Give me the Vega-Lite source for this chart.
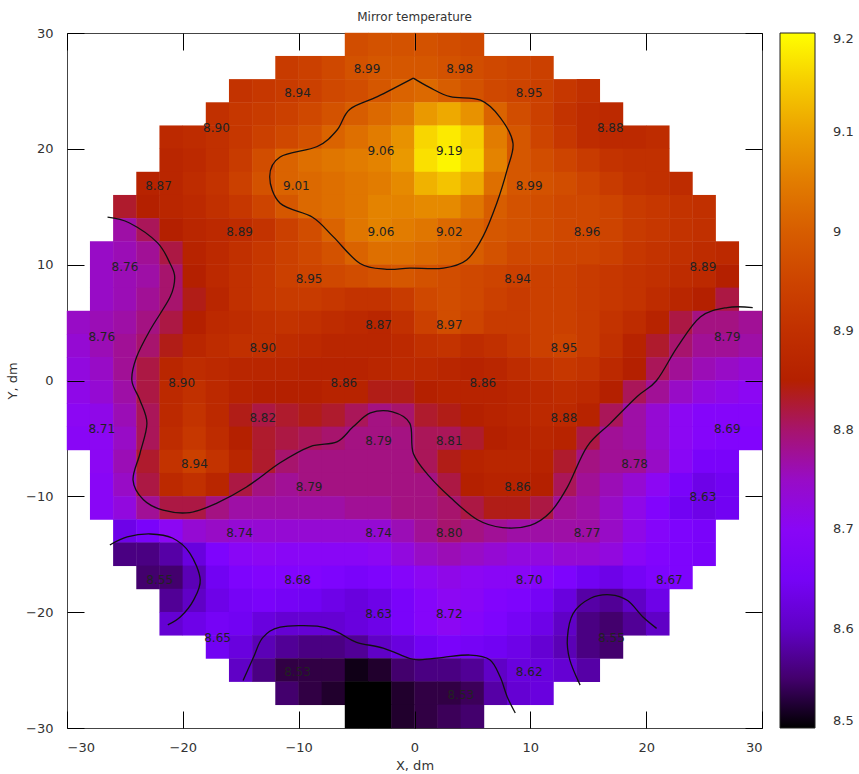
{
"$schema": "https://vega.github.io/schema/vega-lite/v6.json",
"width": 695, "height": 695,
"autosize": {"type": "none"},
"padding": {"left": 67, "top": 33, "right": 97, "bottom": 46},
"title": {"text": "Mirror temperature", "font": "DejaVu Sans", "fontSize": 12, "fontWeight": "normal", "color": "#333", "offset": 3},
"config": {"view": {"stroke": "#444"}, "legend": {"gradientVerticalMaxLength": 2000}},
"resolve": {"axis": {"x": "independent", "y": "independent"}},
"layer": [
{
"data": {"values": [
{"x":-5,"y":29,"t":8.97},{"x":-3,"y":29,"t":8.98},{"x":-1,"y":29,"t":8.98},{"x":1,"y":29,"t":8.98},{"x":3,"y":29,"t":8.97},{"x":5,"y":29,"t":8.96},
{"x":-11,"y":27,"t":8.93},{"x":-9,"y":27,"t":8.94},{"x":-7,"y":27,"t":8.96},{"x":-5,"y":27,"t":8.98},{"x":-3,"y":27,"t":8.99},{"x":-1,"y":27,"t":8.99},{"x":1,"y":27,"t":8.99},{"x":3,"y":27,"t":8.98},{"x":5,"y":27,"t":8.97},{"x":7,"y":27,"t":8.96},{"x":9,"y":27,"t":8.95},{"x":11,"y":27,"t":8.94},
{"x":-15,"y":25,"t":8.91},{"x":-13,"y":25,"t":8.92},{"x":-11,"y":25,"t":8.93},{"x":-9,"y":25,"t":8.94},{"x":-7,"y":25,"t":8.96},{"x":-5,"y":25,"t":8.97},{"x":-3,"y":25,"t":8.99},{"x":-1,"y":25,"t":9.01},{"x":1,"y":25,"t":9.02},{"x":3,"y":25,"t":9.00},{"x":5,"y":25,"t":8.98},{"x":7,"y":25,"t":8.96},{"x":9,"y":25,"t":8.95},{"x":11,"y":25,"t":8.94},{"x":13,"y":25,"t":8.92},{"x":15,"y":25,"t":8.90},
{"x":-17,"y":23,"t":8.90},{"x":-15,"y":23,"t":8.92},{"x":-13,"y":23,"t":8.93},{"x":-11,"y":23,"t":8.94},{"x":-9,"y":23,"t":8.96},{"x":-7,"y":23,"t":8.98},{"x":-5,"y":23,"t":9.00},{"x":-3,"y":23,"t":9.02},{"x":-1,"y":23,"t":9.04},{"x":1,"y":23,"t":9.09},{"x":3,"y":23,"t":9.11},{"x":5,"y":23,"t":9.08},{"x":7,"y":23,"t":9.01},{"x":9,"y":23,"t":8.97},{"x":11,"y":23,"t":8.94},{"x":13,"y":23,"t":8.91},{"x":15,"y":23,"t":8.89},{"x":17,"y":23,"t":8.88},
{"x":-21,"y":21,"t":8.88},{"x":-19,"y":21,"t":8.89},{"x":-17,"y":21,"t":8.90},{"x":-15,"y":21,"t":8.92},{"x":-13,"y":21,"t":8.94},{"x":-11,"y":21,"t":8.96},{"x":-9,"y":21,"t":8.98},{"x":-7,"y":21,"t":9.01},{"x":-5,"y":21,"t":9.03},{"x":-3,"y":21,"t":9.05},{"x":-1,"y":21,"t":9.08},{"x":1,"y":21,"t":9.16},{"x":3,"y":21,"t":9.18},{"x":5,"y":21,"t":9.15},{"x":7,"y":21,"t":9.05},{"x":9,"y":21,"t":8.99},{"x":11,"y":21,"t":8.95},{"x":13,"y":21,"t":8.92},{"x":15,"y":21,"t":8.89},{"x":17,"y":21,"t":8.88},{"x":19,"y":21,"t":8.88},{"x":21,"y":21,"t":8.89},
{"x":-21,"y":19,"t":8.87},{"x":-19,"y":19,"t":8.88},{"x":-17,"y":19,"t":8.90},{"x":-15,"y":19,"t":8.93},{"x":-13,"y":19,"t":8.97},{"x":-11,"y":19,"t":9.01},{"x":-9,"y":19,"t":9.03},{"x":-7,"y":19,"t":9.04},{"x":-5,"y":19,"t":9.05},{"x":-3,"y":19,"t":9.06},{"x":-1,"y":19,"t":9.09},{"x":1,"y":19,"t":9.17},{"x":3,"y":19,"t":9.19},{"x":5,"y":19,"t":9.16},{"x":7,"y":19,"t":9.06},{"x":9,"y":19,"t":8.99},{"x":11,"y":19,"t":8.97},{"x":13,"y":19,"t":8.95},{"x":15,"y":19,"t":8.93},{"x":17,"y":19,"t":8.91},{"x":19,"y":19,"t":8.90},{"x":21,"y":19,"t":8.90},
{"x":-23,"y":17,"t":8.86},{"x":-21,"y":17,"t":8.87},{"x":-19,"y":17,"t":8.89},{"x":-17,"y":17,"t":8.91},{"x":-15,"y":17,"t":8.94},{"x":-13,"y":17,"t":8.98},{"x":-11,"y":17,"t":9.01},{"x":-9,"y":17,"t":9.02},{"x":-7,"y":17,"t":9.03},{"x":-5,"y":17,"t":9.04},{"x":-3,"y":17,"t":9.05},{"x":-1,"y":17,"t":9.07},{"x":1,"y":17,"t":9.12},{"x":3,"y":17,"t":9.14},{"x":5,"y":17,"t":9.11},{"x":7,"y":17,"t":9.03},{"x":9,"y":17,"t":8.99},{"x":11,"y":17,"t":8.98},{"x":13,"y":17,"t":8.97},{"x":15,"y":17,"t":8.95},{"x":17,"y":17,"t":8.93},{"x":19,"y":17,"t":8.91},{"x":21,"y":17,"t":8.90},{"x":23,"y":17,"t":8.89},
{"x":-25,"y":15,"t":8.83},{"x":-23,"y":15,"t":8.85},{"x":-21,"y":15,"t":8.87},{"x":-19,"y":15,"t":8.88},{"x":-17,"y":15,"t":8.90},{"x":-15,"y":15,"t":8.92},{"x":-13,"y":15,"t":8.95},{"x":-11,"y":15,"t":8.99},{"x":-9,"y":15,"t":9.02},{"x":-7,"y":15,"t":9.03},{"x":-5,"y":15,"t":9.04},{"x":-3,"y":15,"t":9.06},{"x":-1,"y":15,"t":9.06},{"x":1,"y":15,"t":9.07},{"x":3,"y":15,"t":9.07},{"x":5,"y":15,"t":9.04},{"x":7,"y":15,"t":9.00},{"x":9,"y":15,"t":8.98},{"x":11,"y":15,"t":8.97},{"x":13,"y":15,"t":8.96},{"x":15,"y":15,"t":8.96},{"x":17,"y":15,"t":8.95},{"x":19,"y":15,"t":8.93},{"x":21,"y":15,"t":8.92},{"x":23,"y":15,"t":8.91},{"x":25,"y":15,"t":8.90},
{"x":-25,"y":13,"t":8.77},{"x":-23,"y":13,"t":8.81},{"x":-21,"y":13,"t":8.85},{"x":-19,"y":13,"t":8.87},{"x":-17,"y":13,"t":8.88},{"x":-15,"y":13,"t":8.89},{"x":-13,"y":13,"t":8.91},{"x":-11,"y":13,"t":8.94},{"x":-9,"y":13,"t":8.97},{"x":-7,"y":13,"t":9.01},{"x":-5,"y":13,"t":9.04},{"x":-3,"y":13,"t":9.06},{"x":-1,"y":13,"t":9.05},{"x":1,"y":13,"t":9.04},{"x":3,"y":13,"t":9.02},{"x":5,"y":13,"t":9.01},{"x":7,"y":13,"t":8.99},{"x":9,"y":13,"t":8.98},{"x":11,"y":13,"t":8.97},{"x":13,"y":13,"t":8.96},{"x":15,"y":13,"t":8.96},{"x":17,"y":13,"t":8.95},{"x":19,"y":13,"t":8.93},{"x":21,"y":13,"t":8.92},{"x":23,"y":13,"t":8.91},{"x":25,"y":13,"t":8.90},
{"x":-27,"y":11,"t":8.75},{"x":-25,"y":11,"t":8.76},{"x":-23,"y":11,"t":8.78},{"x":-21,"y":11,"t":8.82},{"x":-19,"y":11,"t":8.86},{"x":-17,"y":11,"t":8.88},{"x":-15,"y":11,"t":8.90},{"x":-13,"y":11,"t":8.92},{"x":-11,"y":11,"t":8.94},{"x":-9,"y":11,"t":8.96},{"x":-7,"y":11,"t":8.98},{"x":-5,"y":11,"t":9.01},{"x":-3,"y":11,"t":9.03},{"x":-1,"y":11,"t":9.03},{"x":1,"y":11,"t":9.02},{"x":3,"y":11,"t":9.01},{"x":5,"y":11,"t":9.00},{"x":7,"y":11,"t":8.98},{"x":9,"y":11,"t":8.96},{"x":11,"y":11,"t":8.96},{"x":13,"y":11,"t":8.95},{"x":15,"y":11,"t":8.95},{"x":17,"y":11,"t":8.94},{"x":19,"y":11,"t":8.92},{"x":21,"y":11,"t":8.91},{"x":23,"y":11,"t":8.90},{"x":25,"y":11,"t":8.89},{"x":27,"y":11,"t":8.88},
{"x":-27,"y":9,"t":8.75},{"x":-25,"y":9,"t":8.76},{"x":-23,"y":9,"t":8.77},{"x":-21,"y":9,"t":8.80},{"x":-19,"y":9,"t":8.85},{"x":-17,"y":9,"t":8.88},{"x":-15,"y":9,"t":8.90},{"x":-13,"y":9,"t":8.92},{"x":-11,"y":9,"t":8.94},{"x":-9,"y":9,"t":8.95},{"x":-7,"y":9,"t":8.96},{"x":-5,"y":9,"t":8.97},{"x":-3,"y":9,"t":8.98},{"x":-1,"y":9,"t":8.99},{"x":1,"y":9,"t":8.98},{"x":3,"y":9,"t":8.97},{"x":5,"y":9,"t":8.96},{"x":7,"y":9,"t":8.95},{"x":9,"y":9,"t":8.94},{"x":11,"y":9,"t":8.94},{"x":13,"y":9,"t":8.94},{"x":15,"y":9,"t":8.93},{"x":17,"y":9,"t":8.92},{"x":19,"y":9,"t":8.91},{"x":21,"y":9,"t":8.90},{"x":23,"y":9,"t":8.89},{"x":25,"y":9,"t":8.88},{"x":27,"y":9,"t":8.85},
{"x":-27,"y":7,"t":8.75},{"x":-25,"y":7,"t":8.76},{"x":-23,"y":7,"t":8.78},{"x":-21,"y":7,"t":8.80},{"x":-19,"y":7,"t":8.84},{"x":-17,"y":7,"t":8.87},{"x":-15,"y":7,"t":8.90},{"x":-13,"y":7,"t":8.92},{"x":-11,"y":7,"t":8.93},{"x":-9,"y":7,"t":8.93},{"x":-7,"y":7,"t":8.92},{"x":-5,"y":7,"t":8.91},{"x":-3,"y":7,"t":8.91},{"x":-1,"y":7,"t":8.93},{"x":1,"y":7,"t":8.96},{"x":3,"y":7,"t":8.97},{"x":5,"y":7,"t":8.96},{"x":7,"y":7,"t":8.94},{"x":9,"y":7,"t":8.93},{"x":11,"y":7,"t":8.94},{"x":13,"y":7,"t":8.94},{"x":15,"y":7,"t":8.93},{"x":17,"y":7,"t":8.92},{"x":19,"y":7,"t":8.91},{"x":21,"y":7,"t":8.89},{"x":23,"y":7,"t":8.87},{"x":25,"y":7,"t":8.85},{"x":27,"y":7,"t":8.82},
{"x":-29,"y":5,"t":8.75},{"x":-27,"y":5,"t":8.76},{"x":-25,"y":5,"t":8.77},{"x":-23,"y":5,"t":8.79},{"x":-21,"y":5,"t":8.82},{"x":-19,"y":5,"t":8.85},{"x":-17,"y":5,"t":8.88},{"x":-15,"y":5,"t":8.89},{"x":-13,"y":5,"t":8.90},{"x":-11,"y":5,"t":8.91},{"x":-9,"y":5,"t":8.90},{"x":-7,"y":5,"t":8.89},{"x":-5,"y":5,"t":8.88},{"x":-3,"y":5,"t":8.87},{"x":-1,"y":5,"t":8.90},{"x":1,"y":5,"t":8.94},{"x":3,"y":5,"t":8.97},{"x":5,"y":5,"t":8.95},{"x":7,"y":5,"t":8.93},{"x":9,"y":5,"t":8.93},{"x":11,"y":5,"t":8.94},{"x":13,"y":5,"t":8.94},{"x":15,"y":5,"t":8.93},{"x":17,"y":5,"t":8.91},{"x":19,"y":5,"t":8.89},{"x":21,"y":5,"t":8.86},{"x":23,"y":5,"t":8.82},{"x":25,"y":5,"t":8.79},{"x":27,"y":5,"t":8.79},{"x":29,"y":5,"t":8.78},
{"x":-29,"y":3,"t":8.74},{"x":-27,"y":3,"t":8.76},{"x":-25,"y":3,"t":8.78},{"x":-23,"y":3,"t":8.80},{"x":-21,"y":3,"t":8.84},{"x":-19,"y":3,"t":8.87},{"x":-17,"y":3,"t":8.89},{"x":-15,"y":3,"t":8.90},{"x":-13,"y":3,"t":8.90},{"x":-11,"y":3,"t":8.89},{"x":-9,"y":3,"t":8.88},{"x":-7,"y":3,"t":8.87},{"x":-5,"y":3,"t":8.87},{"x":-3,"y":3,"t":8.87},{"x":-1,"y":3,"t":8.88},{"x":1,"y":3,"t":8.90},{"x":3,"y":3,"t":8.91},{"x":5,"y":3,"t":8.89},{"x":7,"y":3,"t":8.90},{"x":9,"y":3,"t":8.92},{"x":11,"y":3,"t":8.94},{"x":13,"y":3,"t":8.95},{"x":15,"y":3,"t":8.93},{"x":17,"y":3,"t":8.90},{"x":19,"y":3,"t":8.86},{"x":21,"y":3,"t":8.83},{"x":23,"y":3,"t":8.80},{"x":25,"y":3,"t":8.78},{"x":27,"y":3,"t":8.78},{"x":29,"y":3,"t":8.77},
{"x":-29,"y":1,"t":8.73},{"x":-27,"y":1,"t":8.75},{"x":-25,"y":1,"t":8.78},{"x":-23,"y":1,"t":8.82},{"x":-21,"y":1,"t":8.87},{"x":-19,"y":1,"t":8.89},{"x":-17,"y":1,"t":8.88},{"x":-15,"y":1,"t":8.87},{"x":-13,"y":1,"t":8.87},{"x":-11,"y":1,"t":8.87},{"x":-9,"y":1,"t":8.86},{"x":-7,"y":1,"t":8.86},{"x":-5,"y":1,"t":8.86},{"x":-3,"y":1,"t":8.87},{"x":-1,"y":1,"t":8.88},{"x":1,"y":1,"t":8.88},{"x":3,"y":1,"t":8.87},{"x":5,"y":1,"t":8.86},{"x":7,"y":1,"t":8.87},{"x":9,"y":1,"t":8.89},{"x":11,"y":1,"t":8.91},{"x":13,"y":1,"t":8.92},{"x":15,"y":1,"t":8.91},{"x":17,"y":1,"t":8.88},{"x":19,"y":1,"t":8.85},{"x":21,"y":1,"t":8.81},{"x":23,"y":1,"t":8.78},{"x":25,"y":1,"t":8.76},{"x":27,"y":1,"t":8.75},{"x":29,"y":1,"t":8.74},
{"x":-29,"y":-1,"t":8.72},{"x":-27,"y":-1,"t":8.74},{"x":-25,"y":-1,"t":8.77},{"x":-23,"y":-1,"t":8.82},{"x":-21,"y":-1,"t":8.88},{"x":-19,"y":-1,"t":8.90},{"x":-17,"y":-1,"t":8.88},{"x":-15,"y":-1,"t":8.86},{"x":-13,"y":-1,"t":8.85},{"x":-11,"y":-1,"t":8.85},{"x":-9,"y":-1,"t":8.85},{"x":-7,"y":-1,"t":8.86},{"x":-5,"y":-1,"t":8.86},{"x":-3,"y":-1,"t":8.84},{"x":-1,"y":-1,"t":8.84},{"x":1,"y":-1,"t":8.85},{"x":3,"y":-1,"t":8.86},{"x":5,"y":-1,"t":8.86},{"x":7,"y":-1,"t":8.86},{"x":9,"y":-1,"t":8.87},{"x":11,"y":-1,"t":8.88},{"x":13,"y":-1,"t":8.89},{"x":15,"y":-1,"t":8.88},{"x":17,"y":-1,"t":8.85},{"x":19,"y":-1,"t":8.81},{"x":21,"y":-1,"t":8.78},{"x":23,"y":-1,"t":8.75},{"x":25,"y":-1,"t":8.73},{"x":27,"y":-1,"t":8.72},{"x":29,"y":-1,"t":8.71},
{"x":-29,"y":-3,"t":8.71},{"x":-27,"y":-3,"t":8.72},{"x":-25,"y":-3,"t":8.76},{"x":-23,"y":-3,"t":8.81},{"x":-21,"y":-3,"t":8.88},{"x":-19,"y":-3,"t":8.91},{"x":-17,"y":-3,"t":8.88},{"x":-15,"y":-3,"t":8.84},{"x":-13,"y":-3,"t":8.82},{"x":-11,"y":-3,"t":8.83},{"x":-9,"y":-3,"t":8.84},{"x":-7,"y":-3,"t":8.83},{"x":-5,"y":-3,"t":8.81},{"x":-3,"y":-3,"t":8.79},{"x":-1,"y":-3,"t":8.80},{"x":1,"y":-3,"t":8.83},{"x":3,"y":-3,"t":8.84},{"x":5,"y":-3,"t":8.85},{"x":7,"y":-3,"t":8.86},{"x":9,"y":-3,"t":8.87},{"x":11,"y":-3,"t":8.88},{"x":13,"y":-3,"t":8.88},{"x":15,"y":-3,"t":8.86},{"x":17,"y":-3,"t":8.81},{"x":19,"y":-3,"t":8.77},{"x":21,"y":-3,"t":8.74},{"x":23,"y":-3,"t":8.71},{"x":25,"y":-3,"t":8.69},{"x":27,"y":-3,"t":8.69},{"x":29,"y":-3,"t":8.69},
{"x":-29,"y":-5,"t":8.70},{"x":-27,"y":-5,"t":8.71},{"x":-25,"y":-5,"t":8.75},{"x":-23,"y":-5,"t":8.81},{"x":-21,"y":-5,"t":8.89},{"x":-19,"y":-5,"t":8.92},{"x":-17,"y":-5,"t":8.89},{"x":-15,"y":-5,"t":8.85},{"x":-13,"y":-5,"t":8.83},{"x":-11,"y":-5,"t":8.82},{"x":-9,"y":-5,"t":8.81},{"x":-7,"y":-5,"t":8.80},{"x":-5,"y":-5,"t":8.79},{"x":-3,"y":-5,"t":8.79},{"x":-1,"y":-5,"t":8.79},{"x":1,"y":-5,"t":8.81},{"x":3,"y":-5,"t":8.81},{"x":5,"y":-5,"t":8.83},{"x":7,"y":-5,"t":8.85},{"x":9,"y":-5,"t":8.86},{"x":11,"y":-5,"t":8.87},{"x":13,"y":-5,"t":8.86},{"x":15,"y":-5,"t":8.82},{"x":17,"y":-5,"t":8.78},{"x":19,"y":-5,"t":8.77},{"x":21,"y":-5,"t":8.74},{"x":23,"y":-5,"t":8.71},{"x":25,"y":-5,"t":8.69},{"x":27,"y":-5,"t":8.68},{"x":29,"y":-5,"t":8.68},
{"x":-27,"y":-7,"t":8.71},{"x":-25,"y":-7,"t":8.76},{"x":-23,"y":-7,"t":8.83},{"x":-21,"y":-7,"t":8.91},{"x":-19,"y":-7,"t":8.94},{"x":-17,"y":-7,"t":8.91},{"x":-15,"y":-7,"t":8.87},{"x":-13,"y":-7,"t":8.83},{"x":-11,"y":-7,"t":8.80},{"x":-9,"y":-7,"t":8.79},{"x":-7,"y":-7,"t":8.79},{"x":-5,"y":-7,"t":8.79},{"x":-3,"y":-7,"t":8.79},{"x":-1,"y":-7,"t":8.79},{"x":1,"y":-7,"t":8.81},{"x":3,"y":-7,"t":8.84},{"x":5,"y":-7,"t":8.86},{"x":7,"y":-7,"t":8.87},{"x":9,"y":-7,"t":8.87},{"x":11,"y":-7,"t":8.86},{"x":13,"y":-7,"t":8.83},{"x":15,"y":-7,"t":8.79},{"x":17,"y":-7,"t":8.78},{"x":19,"y":-7,"t":8.78},{"x":21,"y":-7,"t":8.75},{"x":23,"y":-7,"t":8.70},{"x":25,"y":-7,"t":8.66},{"x":27,"y":-7,"t":8.66},
{"x":-27,"y":-9,"t":8.70},{"x":-25,"y":-9,"t":8.75},{"x":-23,"y":-9,"t":8.82},{"x":-21,"y":-9,"t":8.88},{"x":-19,"y":-9,"t":8.90},{"x":-17,"y":-9,"t":8.87},{"x":-15,"y":-9,"t":8.82},{"x":-13,"y":-9,"t":8.79},{"x":-11,"y":-9,"t":8.78},{"x":-9,"y":-9,"t":8.79},{"x":-7,"y":-9,"t":8.79},{"x":-5,"y":-9,"t":8.79},{"x":-3,"y":-9,"t":8.79},{"x":-1,"y":-9,"t":8.79},{"x":1,"y":-9,"t":8.79},{"x":3,"y":-9,"t":8.82},{"x":5,"y":-9,"t":8.85},{"x":7,"y":-9,"t":8.86},{"x":9,"y":-9,"t":8.86},{"x":11,"y":-9,"t":8.85},{"x":13,"y":-9,"t":8.81},{"x":15,"y":-9,"t":8.78},{"x":17,"y":-9,"t":8.76},{"x":19,"y":-9,"t":8.74},{"x":21,"y":-9,"t":8.71},{"x":23,"y":-9,"t":8.66},{"x":25,"y":-9,"t":8.63},{"x":27,"y":-9,"t":8.64},
{"x":-27,"y":-11,"t":8.70},{"x":-25,"y":-11,"t":8.73},{"x":-23,"y":-11,"t":8.78},{"x":-21,"y":-11,"t":8.82},{"x":-19,"y":-11,"t":8.82},{"x":-17,"y":-11,"t":8.79},{"x":-15,"y":-11,"t":8.77},{"x":-13,"y":-11,"t":8.77},{"x":-11,"y":-11,"t":8.77},{"x":-9,"y":-11,"t":8.77},{"x":-7,"y":-11,"t":8.77},{"x":-5,"y":-11,"t":8.78},{"x":-3,"y":-11,"t":8.78},{"x":-1,"y":-11,"t":8.79},{"x":1,"y":-11,"t":8.79},{"x":3,"y":-11,"t":8.80},{"x":5,"y":-11,"t":8.82},{"x":7,"y":-11,"t":8.84},{"x":9,"y":-11,"t":8.84},{"x":11,"y":-11,"t":8.82},{"x":13,"y":-11,"t":8.78},{"x":15,"y":-11,"t":8.77},{"x":17,"y":-11,"t":8.75},{"x":19,"y":-11,"t":8.72},{"x":21,"y":-11,"t":8.68},{"x":23,"y":-11,"t":8.64},{"x":25,"y":-11,"t":8.63},{"x":27,"y":-11,"t":8.64},
{"x":-25,"y":-13,"t":8.63},{"x":-23,"y":-13,"t":8.66},{"x":-21,"y":-13,"t":8.71},{"x":-19,"y":-13,"t":8.74},{"x":-17,"y":-13,"t":8.75},{"x":-15,"y":-13,"t":8.74},{"x":-13,"y":-13,"t":8.74},{"x":-11,"y":-13,"t":8.74},{"x":-9,"y":-13,"t":8.74},{"x":-7,"y":-13,"t":8.74},{"x":-5,"y":-13,"t":8.74},{"x":-3,"y":-13,"t":8.74},{"x":-1,"y":-13,"t":8.76},{"x":1,"y":-13,"t":8.78},{"x":3,"y":-13,"t":8.80},{"x":5,"y":-13,"t":8.79},{"x":7,"y":-13,"t":8.78},{"x":9,"y":-13,"t":8.77},{"x":11,"y":-13,"t":8.77},{"x":13,"y":-13,"t":8.77},{"x":15,"y":-13,"t":8.77},{"x":17,"y":-13,"t":8.75},{"x":19,"y":-13,"t":8.72},{"x":21,"y":-13,"t":8.69},{"x":23,"y":-13,"t":8.67},{"x":25,"y":-13,"t":8.66},
{"x":-25,"y":-15,"t":8.56},{"x":-23,"y":-15,"t":8.56},{"x":-21,"y":-15,"t":8.58},{"x":-19,"y":-15,"t":8.62},{"x":-17,"y":-15,"t":8.67},{"x":-15,"y":-15,"t":8.70},{"x":-13,"y":-15,"t":8.71},{"x":-11,"y":-15,"t":8.70},{"x":-9,"y":-15,"t":8.70},{"x":-7,"y":-15,"t":8.70},{"x":-5,"y":-15,"t":8.70},{"x":-3,"y":-15,"t":8.71},{"x":-1,"y":-15,"t":8.73},{"x":1,"y":-15,"t":8.75},{"x":3,"y":-15,"t":8.76},{"x":5,"y":-15,"t":8.75},{"x":7,"y":-15,"t":8.74},{"x":9,"y":-15,"t":8.73},{"x":11,"y":-15,"t":8.73},{"x":13,"y":-15,"t":8.74},{"x":15,"y":-15,"t":8.74},{"x":17,"y":-15,"t":8.73},{"x":19,"y":-15,"t":8.70},{"x":21,"y":-15,"t":8.68},{"x":23,"y":-15,"t":8.67},{"x":25,"y":-15,"t":8.66},
{"x":-23,"y":-17,"t":8.55},{"x":-21,"y":-17,"t":8.55},{"x":-19,"y":-17,"t":8.59},{"x":-17,"y":-17,"t":8.64},{"x":-15,"y":-17,"t":8.67},{"x":-13,"y":-17,"t":8.68},{"x":-11,"y":-17,"t":8.68},{"x":-9,"y":-17,"t":8.68},{"x":-7,"y":-17,"t":8.67},{"x":-5,"y":-17,"t":8.66},{"x":-3,"y":-17,"t":8.67},{"x":-1,"y":-17,"t":8.69},{"x":1,"y":-17,"t":8.71},{"x":3,"y":-17,"t":8.72},{"x":5,"y":-17,"t":8.71},{"x":7,"y":-17,"t":8.70},{"x":9,"y":-17,"t":8.70},{"x":11,"y":-17,"t":8.69},{"x":13,"y":-17,"t":8.67},{"x":15,"y":-17,"t":8.64},{"x":17,"y":-17,"t":8.63},{"x":19,"y":-17,"t":8.65},{"x":21,"y":-17,"t":8.67},{"x":23,"y":-17,"t":8.67},
{"x":-21,"y":-19,"t":8.57},{"x":-19,"y":-19,"t":8.60},{"x":-17,"y":-19,"t":8.63},{"x":-15,"y":-19,"t":8.65},{"x":-13,"y":-19,"t":8.66},{"x":-11,"y":-19,"t":8.65},{"x":-9,"y":-19,"t":8.64},{"x":-7,"y":-19,"t":8.63},{"x":-5,"y":-19,"t":8.62},{"x":-3,"y":-19,"t":8.63},{"x":-1,"y":-19,"t":8.66},{"x":1,"y":-19,"t":8.69},{"x":3,"y":-19,"t":8.71},{"x":5,"y":-19,"t":8.70},{"x":7,"y":-19,"t":8.68},{"x":9,"y":-19,"t":8.67},{"x":11,"y":-19,"t":8.65},{"x":13,"y":-19,"t":8.62},{"x":15,"y":-19,"t":8.58},{"x":17,"y":-19,"t":8.57},{"x":19,"y":-19,"t":8.60},{"x":21,"y":-19,"t":8.63},
{"x":-21,"y":-21,"t":8.61},{"x":-19,"y":-21,"t":8.63},{"x":-17,"y":-21,"t":8.65},{"x":-15,"y":-21,"t":8.64},{"x":-13,"y":-21,"t":8.62},{"x":-11,"y":-21,"t":8.61},{"x":-9,"y":-21,"t":8.61},{"x":-7,"y":-21,"t":8.61},{"x":-5,"y":-21,"t":8.62},{"x":-3,"y":-21,"t":8.63},{"x":-1,"y":-21,"t":8.66},{"x":1,"y":-21,"t":8.69},{"x":3,"y":-21,"t":8.71},{"x":5,"y":-21,"t":8.69},{"x":7,"y":-21,"t":8.67},{"x":9,"y":-21,"t":8.65},{"x":11,"y":-21,"t":8.63},{"x":13,"y":-21,"t":8.60},{"x":15,"y":-21,"t":8.56},{"x":17,"y":-21,"t":8.55},{"x":19,"y":-21,"t":8.57},{"x":21,"y":-21,"t":8.60},
{"x":-17,"y":-23,"t":8.64},{"x":-15,"y":-23,"t":8.62},{"x":-13,"y":-23,"t":8.59},{"x":-11,"y":-23,"t":8.57},{"x":-9,"y":-23,"t":8.56},{"x":-7,"y":-23,"t":8.56},{"x":-5,"y":-23,"t":8.57},{"x":-3,"y":-23,"t":8.60},{"x":-1,"y":-23,"t":8.62},{"x":1,"y":-23,"t":8.64},{"x":3,"y":-23,"t":8.66},{"x":5,"y":-23,"t":8.65},{"x":7,"y":-23,"t":8.64},{"x":9,"y":-23,"t":8.63},{"x":11,"y":-23,"t":8.61},{"x":13,"y":-23,"t":8.59},{"x":15,"y":-23,"t":8.56},{"x":17,"y":-23,"t":8.55},
{"x":-15,"y":-25,"t":8.60},{"x":-13,"y":-25,"t":8.56},{"x":-11,"y":-25,"t":8.53},{"x":-9,"y":-25,"t":8.53},{"x":-7,"y":-25,"t":8.53},{"x":-5,"y":-25,"t":8.51},{"x":-3,"y":-25,"t":8.52},{"x":-1,"y":-25,"t":8.55},{"x":1,"y":-25,"t":8.56},{"x":3,"y":-25,"t":8.56},{"x":5,"y":-25,"t":8.57},{"x":7,"y":-25,"t":8.60},{"x":9,"y":-25,"t":8.62},{"x":11,"y":-25,"t":8.62},{"x":13,"y":-25,"t":8.61},{"x":15,"y":-25,"t":8.58},
{"x":-11,"y":-27,"t":8.55},{"x":-9,"y":-27,"t":8.53},{"x":-7,"y":-27,"t":8.52},{"x":-5,"y":-27,"t":8.50},{"x":-3,"y":-27,"t":8.50},{"x":-1,"y":-27,"t":8.52},{"x":1,"y":-27,"t":8.53},{"x":3,"y":-27,"t":8.53},{"x":5,"y":-27,"t":8.54},{"x":7,"y":-27,"t":8.58},{"x":9,"y":-27,"t":8.61},{"x":11,"y":-27,"t":8.62},
{"x":-5,"y":-29,"t":8.50},{"x":-3,"y":-29,"t":8.50},{"x":-1,"y":-29,"t":8.52},{"x":1,"y":-29,"t":8.53},{"x":3,"y":-29,"t":8.54},{"x":5,"y":-29,"t":8.55}
]},
"mark": {"type": "rect", "width": 23.6, "height": 23.6},
"encoding": {
"x": {"field": "x", "type": "quantitative", "scale": {"domain": [-30, 30], "nice": false, "zero": false},
  "axis": {"orient": "bottom", "values": [-30,-20,-10,0,10,20,30], "ticks": false, "labelPadding": 13, "domain": false, "grid": false, "title": "X, dm", "labelFont": "DejaVu Sans", "labelFontSize": 13, "labelColor": "#333", "titleFont": "DejaVu Sans", "titleFontSize": 13, "titleFontWeight": "normal", "titleColor": "#333", "titleBaseline": "middle", "titleY": 37}},
"y": {"field": "y", "type": "quantitative", "scale": {"domain": [-30, 30], "nice": false, "zero": false},
  "axis": {"orient": "left", "values": [-30,-20,-10,0,10,20,30], "ticks": false, "labelPadding": 14, "domain": false, "grid": false, "title": "Y, dm", "labelFont": "DejaVu Sans", "labelFontSize": 13, "labelColor": "#333", "titleFont": "DejaVu Sans", "titleFontSize": 13, "titleFontWeight": "normal", "titleColor": "#333", "titleBaseline": "middle", "titleX": -55}},
"color": {"field": "t", "type": "quantitative",
  "scale": {"domain": [8.5,8.535,8.57,8.605,8.64,8.675,8.71,8.745,8.78,8.815,8.85,8.885,8.92,8.955,8.99,9.025,9.06,9.095,9.13,9.165,9.2],
            "range": ["#000000","#39004f","#510096","#6301ce","#7202f3","#8004ff","#8c07f3","#970bce","#a11096","#ab174f","#b42000","#bd2a00","#c63700","#ce4600","#d55700","#dd6c00","#e48300","#eb9d00","#f2ba00","#f9db00","#ffff00"],
            "interpolate": "rgb", "clamp": true},
  "legend": {"title": null, "orient": "right", "offset": 17, "direction": "vertical", "gradientLength": 695, "gradientThickness": 35, "gradientStrokeColor": "#222", "gradientStrokeWidth": 1, "values": [8.5,8.6,8.7,8.8,8.9,9,9.1,9.2], "format": "~g", "labelFont": "DejaVu Sans", "labelFontSize": 13, "labelColor": "#333", "labelOffset": 18, "labelOverlap": false, "padding": 0}}
}
},
{
"data": {"values": [
{"c":"a","o":1,"x":-0.1,"y":26.1},{"c":"a","o":2,"x":1.3,"y":25.3},{"c":"a","o":3,"x":3.1,"y":24.5},{"c":"a","o":4,"x":5.7,"y":24.2},{"c":"a","o":5,"x":7.4,"y":22.7},{"c":"a","o":6,"x":8.5,"y":20.5},{"c":"a","o":7,"x":8.0,"y":18.2},{"c":"a","o":8,"x":7.1,"y":15.3},{"c":"a","o":9,"x":5.9,"y":12.4},{"c":"a","o":10,"x":4.5,"y":10.4},{"c":"a","o":11,"x":2.5,"y":9.7},{"c":"a","o":12,"x":-0.4,"y":9.7},{"c":"a","o":13,"x":-2.4,"y":9.6},{"c":"a","o":14,"x":-4.7,"y":10.1},{"c":"a","o":15,"x":-7.0,"y":12.4},{"c":"a","o":16,"x":-8.8,"y":14.1},{"c":"a","o":17,"x":-11.6,"y":15.3},{"c":"a","o":18,"x":-12.5,"y":17.6},{"c":"a","o":19,"x":-11.6,"y":19.3},{"c":"a","o":20,"x":-8.4,"y":20.2},{"c":"a","o":21,"x":-6.7,"y":21.6},{"c":"a","o":22,"x":-5.6,"y":23.4},{"c":"a","o":23,"x":-3.2,"y":24.5},{"c":"a","o":24,"x":-0.1,"y":26.1},
{"c":"b","o":1,"x":-26.5,"y":14.1},{"c":"b","o":2,"x":-24.6,"y":13.6},{"c":"b","o":3,"x":-22.2,"y":11.9},{"c":"b","o":4,"x":-21.1,"y":10.1},{"c":"b","o":5,"x":-20.7,"y":8.9},{"c":"b","o":6,"x":-21.1,"y":7.2},{"c":"b","o":7,"x":-22.8,"y":4.4},{"c":"b","o":8,"x":-24.0,"y":2.0},{"c":"b","o":9,"x":-24.4,"y":0.0},{"c":"b","o":10,"x":-23.7,"y":-1.7},{"c":"b","o":11,"x":-23.1,"y":-3.7},{"c":"b","o":12,"x":-23.7,"y":-6.3},{"c":"b","o":13,"x":-24.3,"y":-8.6},{"c":"b","o":14,"x":-23.4,"y":-10.3},{"c":"b","o":15,"x":-21.7,"y":-11.2},{"c":"b","o":16,"x":-19.4,"y":-11.4},{"c":"b","o":17,"x":-17.1,"y":-10.6},{"c":"b","o":18,"x":-14.5,"y":-9.2},{"c":"b","o":19,"x":-11.6,"y":-7.1},{"c":"b","o":20,"x":-9.0,"y":-5.7},{"c":"b","o":21,"x":-6.7,"y":-5.3},{"c":"b","o":22,"x":-5.3,"y":-4.0},{"c":"b","o":23,"x":-3.8,"y":-2.8},{"c":"b","o":24,"x":-1.9,"y":-2.7},{"c":"b","o":25,"x":-0.4,"y":-3.7},{"c":"b","o":26,"x":-0.1,"y":-6.3},{"c":"b","o":27,"x":1.3,"y":-8.3},{"c":"b","o":28,"x":3.1,"y":-10.1},{"c":"b","o":29,"x":5.4,"y":-12.0},{"c":"b","o":30,"x":7.6,"y":-12.7},{"c":"b","o":31,"x":10.0,"y":-12.5},{"c":"b","o":32,"x":11.7,"y":-11.4},{"c":"b","o":33,"x":13.2,"y":-9.2},{"c":"b","o":34,"x":14.9,"y":-5.7},{"c":"b","o":35,"x":16.9,"y":-3.7},{"c":"b","o":36,"x":19.2,"y":-1.4},{"c":"b","o":37,"x":20.9,"y":0.0},{"c":"b","o":38,"x":22.7,"y":2.9},{"c":"b","o":39,"x":24.7,"y":5.5},{"c":"b","o":40,"x":27.0,"y":6.3},{"c":"b","o":41,"x":29.2,"y":6.3},
{"c":"c","o":1,"x":-26.3,"y":-14.2},{"c":"c","o":2,"x":-24.8,"y":-13.5},{"c":"c","o":3,"x":-22.8,"y":-13.25},{"c":"c","o":4,"x":-20.9,"y":-13.6},{"c":"c","o":5,"x":-19.4,"y":-14.9},{"c":"c","o":6,"x":-18.5,"y":-17.2},{"c":"c","o":7,"x":-19.1,"y":-19.0},{"c":"c","o":8,"x":-20.2,"y":-20.4},{"c":"c","o":9,"x":-21.3,"y":-21.1},
{"c":"d","o":1,"x":-14.8,"y":-25.9},{"c":"d","o":2,"x":-13.9,"y":-23.9},{"c":"d","o":3,"x":-13.1,"y":-22.2},{"c":"d","o":4,"x":-11.6,"y":-21.3},{"c":"d","o":5,"x":-8.4,"y":-21.2},{"c":"d","o":6,"x":-6.7,"y":-21.7},{"c":"d","o":7,"x":-5.0,"y":-22.6},{"c":"d","o":8,"x":-2.7,"y":-23.1},{"c":"d","o":9,"x":-0.4,"y":-24.0},{"c":"d","o":10,"x":0.7,"y":-24.1},{"c":"d","o":11,"x":2.5,"y":-23.9},{"c":"d","o":12,"x":4.8,"y":-23.7},{"c":"d","o":13,"x":6.5,"y":-24.1},{"c":"d","o":14,"x":7.4,"y":-25.6},{"c":"d","o":15,"x":8.0,"y":-27.3},{"c":"d","o":16,"x":8.7,"y":-28.7},
{"c":"e","o":1,"x":14.3,"y":-26.3},{"c":"e","o":2,"x":13.4,"y":-24.1},{"c":"e","o":3,"x":13.2,"y":-22.2},{"c":"e","o":4,"x":13.7,"y":-20.1},{"c":"e","o":5,"x":15.2,"y":-18.8},{"c":"e","o":6,"x":16.9,"y":-18.5},{"c":"e","o":7,"x":18.4,"y":-19.0},{"c":"e","o":8,"x":19.7,"y":-20.4},{"c":"e","o":9,"x":20.9,"y":-21.4}
]},
"mark": {"type": "line", "color": "#111", "strokeWidth": 1.3, "interpolate": "cardinal"},
"encoding": {
"x": {"field": "x", "type": "quantitative", "axis": {"orient": "top", "offset": -695, "values": [-30,-20,-10,0,10,20,30], "tickSize": 17, "tickColor": "black", "labels": false, "domain": false, "title": null, "zindex": 1, "grid": true, "gridColor": "transparent"}},
"y": {"field": "y", "type": "quantitative", "axis": {"orient": "right", "offset": -695, "values": [-30,-20,-10,0,10,20,30], "tickSize": 17, "tickColor": "black", "labels": false, "domain": false, "title": null, "zindex": 1, "grid": true, "gridColor": "transparent"}},
"detail": {"field": "c"},
"order": {"field": "o", "type": "quantitative"}
}
},
{
"data": {"values": [
{"x":-4.1,"y":26.9,"t":8.99},{"x":3.9,"y":26.9,"t":8.98},{"x":-10.1,"y":24.8,"t":8.94},{"x":9.9,"y":24.8,"t":8.95},{"x":-17.1,"y":21.8,"t":8.90},{"x":16.9,"y":21.8,"t":8.88},{"x":-2.9,"y":19.8,"t":9.06},{"x":3.0,"y":19.8,"t":9.19},{"x":-22.1,"y":16.8,"t":8.87},{"x":-10.2,"y":16.8,"t":9.01},{"x":9.9,"y":16.8,"t":8.99},{"x":-15.1,"y":12.8,"t":8.89},{"x":-2.9,"y":12.8,"t":9.06},{"x":3.0,"y":12.8,"t":9.02},{"x":14.9,"y":12.8,"t":8.96},{"x":-25.0,"y":9.8,"t":8.76},{"x":24.9,"y":9.8,"t":8.89},{"x":-9.1,"y":8.8,"t":8.95},{"x":8.9,"y":8.8,"t":8.94},{"x":-3.1,"y":4.8,"t":8.87},{"x":3.0,"y":4.8,"t":8.97},{"x":-27.0,"y":3.75,"t":8.76},{"x":27.0,"y":3.75,"t":8.79},{"x":-13.1,"y":2.8,"t":8.90},{"x":12.9,"y":2.8,"t":8.95},{"x":-20.1,"y":-0.2,"t":8.90},{"x":-6.1,"y":-0.2,"t":8.86},{"x":5.9,"y":-0.2,"t":8.86},{"x":-13.1,"y":-3.2,"t":8.82},{"x":12.9,"y":-3.2,"t":8.88},{"x":-27.0,"y":-4.2,"t":8.71},{"x":27.0,"y":-4.2,"t":8.69},{"x":-3.1,"y":-5.2,"t":8.79},{"x":3.0,"y":-5.2,"t":8.81},{"x":-19.0,"y":-7.2,"t":8.94},{"x":19.0,"y":-7.2,"t":8.78},{"x":-9.1,"y":-9.2,"t":8.79},{"x":8.9,"y":-9.2,"t":8.86},{"x":24.9,"y":-10.1,"t":8.63},{"x":-15.1,"y":-13.2,"t":8.74},{"x":-3.1,"y":-13.2,"t":8.74},{"x":3.0,"y":-13.2,"t":8.80},{"x":14.9,"y":-13.2,"t":8.77},{"x":-22.0,"y":-17.2,"t":8.55},{"x":-10.1,"y":-17.2,"t":8.68},{"x":9.9,"y":-17.2,"t":8.70},{"x":22.0,"y":-17.2,"t":8.67},{"x":-3.1,"y":-20.2,"t":8.63},{"x":3.0,"y":-20.2,"t":8.72},{"x":-17.0,"y":-22.2,"t":8.65},{"x":17.0,"y":-22.2,"t":8.55},{"x":-10.1,"y":-25.2,"t":8.53},{"x":9.9,"y":-25.2,"t":8.62},{"x":4.0,"y":-27.15,"t":8.53}
]},
"mark": {"type": "text", "font": "DejaVu Sans", "fontSize": 12, "color": "#222", "baseline": "middle", "align": "center"},
"encoding": {
"x": {"field": "x", "type": "quantitative", "axis": {"orient": "bottom", "offset": -695, "values": [-30,-20,-10,0,10,20,30], "tickSize": 17, "tickColor": "black", "labels": false, "domain": false, "title": null, "zindex": 1, "grid": true, "gridColor": "transparent"}},
"y": {"field": "y", "type": "quantitative", "axis": {"orient": "left", "offset": -695, "values": [-30,-20,-10,0,10,20,30], "tickSize": 17, "tickColor": "black", "labels": false, "domain": false, "title": null, "zindex": 1, "grid": true, "gridColor": "transparent"}},
"text": {"field": "t", "type": "quantitative", "format": ".2f"}
}
}
]
}
